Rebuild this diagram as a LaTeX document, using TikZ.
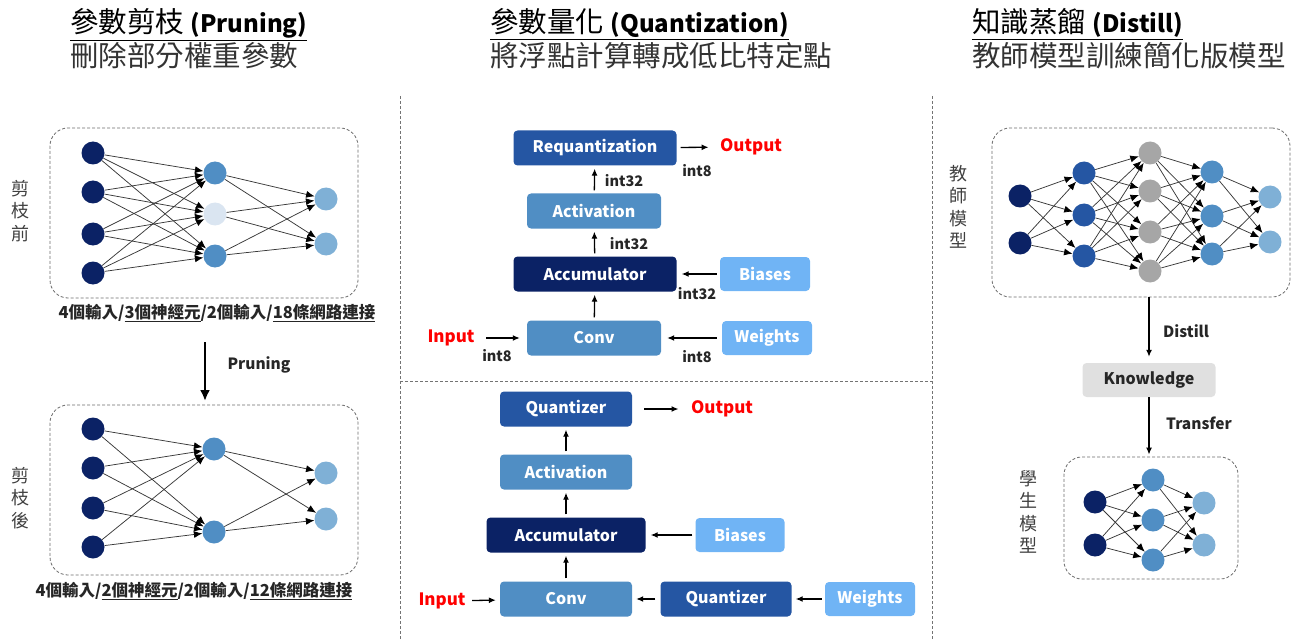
\documentclass[tikz,border=0pt]{standalone}
\usepackage{fontspec}
\setmainfont{Noto Sans CJK TC}
\usepackage{xcolor}
\usetikzlibrary{arrows.meta,positioning,fit}

\definecolor{navy}{RGB}{11,34,101}
\definecolor{deepblue}{RGB}{37,86,163}
\definecolor{midblue}{RGB}{80,142,196}
\definecolor{skyblue}{RGB}{112,180,245}
\definecolor{outblue}{RGB}{127,176,214}
\definecolor{faded}{RGB}{218,229,241}
\definecolor{midgray}{RGB}{166,166,166}
\definecolor{lightgray}{RGB}{224,224,224}

\newcommand{\fs}[1]{\fontsize{#1}{#1}\selectfont}

\begin{document}
\begin{tikzpicture}[x=1pt,y=-1pt,
		arrow/.style = {line width=1.3pt,-{Latex[length=7pt,width=6pt]}},
		link/.style = {draw=black!78,line width=0.75pt,-{Latex[length=8.5pt,width=7pt,color=black]}}]
	\tikzset{neuron/.style={circle,minimum size=23pt,inner sep=0pt}}
	\tikzset{netbox/.style={draw=black!58,line width=0.8pt,dash pattern=on 3pt off 2pt,rounded corners=18pt,inner sep=0pt}}
	\tikzset{block/.style={rounded corners=4pt,minimum height=35pt,text=white,font=\bfseries\fs{16}}}
	\tikzset{lbl/.style={font=\bfseries\fs{14.5},text=black!85}}
	\tikzset{io/.style={font=\bfseries\fs{17},text=red}}
	\tikzset{vtext/.style={align=center,font=\fontsize{18}{22.5}\selectfont,text=black!75}}
	\tikzset{sep/.style={draw=black!55,dash pattern=on 3pt off 2pt,line width=0.6pt}}
	\tikzset{title/.style={anchor=base west,font=\fs{28.5},inner sep=0pt}}

	\useasboundingbox (0,0) rectangle (1306,639);

	% titles
	\node[title] (ttlprune) at (70,33) {\underline{參數剪枝 {\fs{24}\textbf{(Pruning)}}}};
	\node[title,text=black!80] (subprune) at (70,67) {刪除部分權重參數};
	\node[title] (ttlquant) at (490,33) {\underline{參數量化 {\fs{24}\textbf{(Quantization)}}}};
	\node[title,text=black!80] (subquant) at (490,67) {將浮點計算轉成低比特定點};
	\node[title] (ttldist) at (972,33) {\underline{知識蒸餾 {\fs{24}\textbf{(Distill)}}}};
	\node[title,text=black!80] (subdist) at (972,67) {教師模型訓練簡化版模型};

	% separators
	\draw[sep] (400,96) -- (400,639);
	\draw[sep] (932,96) -- (932,639);
	\draw[sep] (400,381) -- (932,381);

	% Pruning: before
	\node[netbox,fit={(50,128) (358,298)}] (prebox) {};
	\node[vtext] (prename) at (20,211) {剪\\枝\\前};
	\foreach \y [count=\i] in {153,192,234,273}
		\node[neuron,fill=navy] (pa\i) at (93,\y) {};
	\foreach \y/\c [count=\i] in {173/midblue,214/faded,256/midblue}
		\node[neuron,fill=\c] (pb\i) at (215,\y) {};
	\foreach \y [count=\i] in {199,244}
		\node[neuron,fill=outblue] (pc\i) at (326,\y) {};
	\foreach \i in {1,...,4}
		\foreach \j in {1,2,3}
			\draw[link] (pa\i) -- (pb\j);
	\foreach \i in {1,2,3}
		\foreach \j in {1,2}
			\draw[link] (pb\i) -- (pc\j);
	\node[font=\bfseries\fs{16.5},text=black!85] (prelbl) at (217,313) {4個輸入/\underline{3個神經元}/2個輸入/\underline{18條網路連接}};

	\coordinate (prunetop) at (205,342);
	\draw[line width=2.4pt,-{Latex[length=11pt,width=10pt]}] (prunetop) -- (205,401);
	\node[lbl,font=\bfseries\fs{15.5}] (prunelbl) at (259,365) {Pruning};

	% Pruning: after
	\node[netbox,fit={(50,405) (358,575)}] (postbox) {};
	\node[vtext] (postname) at (20,498) {剪\\枝\\後};
	\foreach \y [count=\i] in {429,468,508,547}
		\node[neuron,fill=navy] (qa\i) at (93,\y) {};
	\foreach \y [count=\i] in {449,532}
		\node[neuron,fill=midblue] (qb\i) at (214,\y) {};
	\foreach \y [count=\i] in {473,519}
		\node[neuron,fill=outblue] (qc\i) at (326,\y) {};
	\foreach \i in {1,...,4}
		\foreach \j in {1,2}
			\draw[link] (qa\i) -- (qb\j);
	\foreach \i in {1,2}
		\foreach \j in {1,2}
			\draw[link] (qb\i) -- (qc\j);
	\node[font=\bfseries\fs{16.5},text=black!85] (postlbl) at (194,591) {4個輸入/\underline{2個神經元}/2個輸入/\underline{12條網路連接}};

	% Quantization: integer pipeline
	\node[block,fill=deepblue,minimum width=163pt] (req) at (595,148) {Requantization};
	\node[block,fill=midblue,minimum width=134pt] (act) at (594,211) {Activation};
	\node[block,fill=navy,minimum width=163pt] (acc) at (595,274) {Accumulator};
	\node[block,fill=midblue,minimum width=134pt] (conv) at (594,338) {Conv};
	\node[block,fill=skyblue,minimum width=90pt,minimum height=34pt] (bias) at (765,274) {Biases};
	\node[block,fill=skyblue,minimum width=90pt,minimum height=34pt] (wts) at (767,338) {Weights};
	\node[io] (outa) at (751,147) {Output};
	\node[io] (ina) at (451,338) {Input};

	\draw[arrow,shorten <=4pt,shorten >=8pt] (req) -- (outa);
	\draw[arrow,shorten <=3pt,shorten >=3pt] (act) -- (req);
	\draw[arrow,shorten <=3pt,shorten >=3pt] (acc) -- (act);
	\draw[arrow,shorten <=3pt,shorten >=3pt] (conv) -- (acc);
	\draw[arrow,shorten <=3pt,shorten >=5pt] (bias) -- (acc);
	\draw[arrow,shorten <=5pt,shorten >=6pt] (wts) -- (conv);
	\draw[arrow,shorten <=8pt,shorten >=7pt] (ina) -- (conv);

	\node[lbl] (ta) at (697,171) {int8};
	\node[lbl] (tb) at (624,181) {int32};
	\node[lbl] (tc) at (629,244) {int32};
	\node[lbl] (td) at (697,294) {int32};
	\node[lbl] (te) at (697,357) {int8};
	\node[lbl] (tf) at (497,356) {int8};

	% Quantization: simulated pipeline
	\node[block,fill=deepblue,minimum width=132pt] (qz) at (566,409) {Quantizer};
	\node[block,fill=midblue,minimum width=132pt] (qact) at (566,472) {Activation};
	\node[block,fill=navy,minimum width=159pt] (qacc) at (566,535) {Accumulator};
	\node[block,fill=midblue,minimum width=132pt] (qconv) at (566,599) {Conv};
	\node[block,fill=skyblue,minimum width=89pt,minimum height=34pt] (qbias) at (740,535) {Biases};
	\node[block,fill=deepblue,minimum width=131pt] (wqz) at (726,599) {Quantizer};
	\node[block,fill=skyblue,minimum width=90pt,minimum height=34pt] (qwts) at (870,599) {Weights};
	\node[io] (outb) at (722,409) {Output};
	\node[io] (inb) at (442,601) {Input};

	\draw[arrow,shorten <=12pt,shorten >=9pt] (qz) -- (outb);
	\draw[arrow,shorten <=3pt,shorten >=3pt] (qact) -- (qz);
	\draw[arrow,shorten <=3pt,shorten >=3pt] (qacc) -- (qact);
	\draw[arrow,shorten <=3pt,shorten >=3pt] (qconv) -- (qacc);
	\draw[arrow,shorten <=3pt,shorten >=5pt] (qbias) -- (qacc);
	\draw[arrow,shorten <=5pt,shorten >=4pt] (wqz) -- (qconv);
	\draw[arrow,shorten <=3pt,shorten >=4pt] (qwts) -- (wqz);
	\draw[arrow,shorten <=3pt,shorten >=4pt] (inb) -- (qconv);

	% Distill: teacher
	\node[netbox,fit={(992,128) (1290,297)}] (teacher) {};
	\node[vtext] (teachname) at (958,207) {教\\師\\模\\型};
	\foreach \y [count=\i] in {196,243}
		\node[neuron,fill=navy] (ta\i) at (1020,\y) {};
	\foreach \y [count=\i] in {173,215,256}
		\node[neuron,fill=deepblue] (tb\i) at (1084,\y) {};
	\foreach \y [count=\i] in {153,191,232,271}
		\node[neuron,fill=midgray] (tc\i) at (1150,\y) {};
	\foreach \y [count=\i] in {172,216,254}
		\node[neuron,fill=midblue] (td\i) at (1212,\y) {};
	\foreach \y [count=\i] in {197,242}
		\node[neuron,fill=outblue] (te\i) at (1270,\y) {};
	\foreach \i in {1,2}
		\foreach \j in {1,2,3}
			\draw[link] (ta\i) -- (tb\j);
	\foreach \i in {1,2,3}
		\foreach \j in {1,...,4}
			\draw[link] (tb\i) -- (tc\j);
	\foreach \i in {1,...,4}
		\foreach \j in {1,2,3}
			\draw[link] (tc\i) -- (td\j);
	\foreach \i in {1,2,3}
		\foreach \j in {1,2}
			\draw[link] (td\i) -- (te\j);

	% Distill: knowledge
	\node[rounded corners=4pt,fill=lightgray,minimum width=133pt,minimum height=34pt,font=\bfseries\fs{16},text=black!85] (know) at (1149,380) {Knowledge};
	\draw[arrow,shorten >=6pt] (teacher.south -| know.north) -- (know.north);
	\node[lbl,font=\bfseries\fs{15.5}] (distlbl) at (1186,331) {Distill};

	% Distill: student
	\node[netbox,fit={(1064,457) (1238,579)}] (student) {};
	\node[vtext] (studname) at (1028,512) {學\\生\\模\\型};
	\foreach \y [count=\i] in {502,545}
		\node[neuron,fill=navy] (sa\i) at (1095,\y) {};
	\foreach \y [count=\i] in {480,520,560}
		\node[neuron,fill=midblue] (sb\i) at (1153,\y) {};
	\foreach \y [count=\i] in {503,545}
		\node[neuron,fill=outblue] (sc\i) at (1204,\y) {};
	\foreach \i in {1,2}
		\foreach \j in {1,2,3}
			\draw[link] (sa\i) -- (sb\j);
	\foreach \i in {1,2,3}
		\foreach \j in {1,2}
			\draw[link] (sb\i) -- (sc\j);

	\draw[arrow,shorten >=2pt] (know.south) -- (know.south |- student.north);
	\node[lbl,font=\bfseries\fs{15.5}] (translbl) at (1199,423) {Transfer};

\end{tikzpicture}
\end{document}
